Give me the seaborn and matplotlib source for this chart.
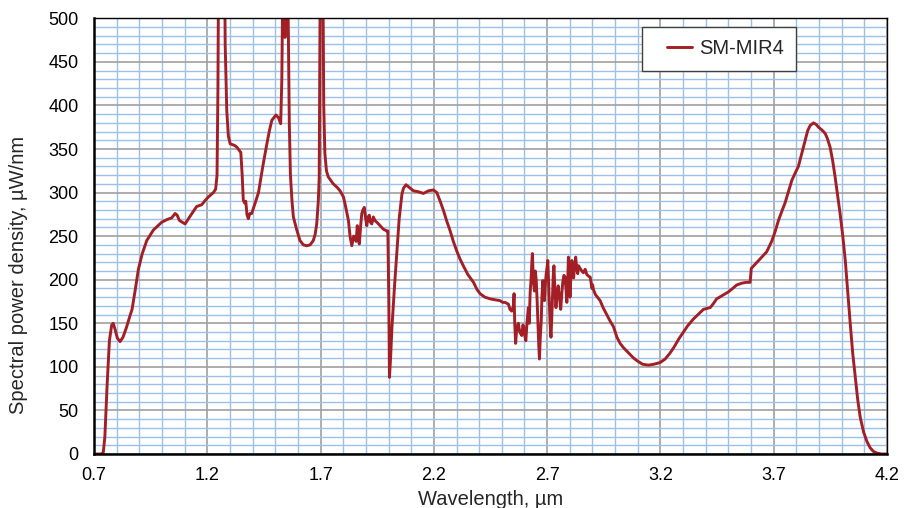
"""Spectral power density of the SM-MIR4 source, 0.7-4.2 um."""

import numpy as np
import matplotlib
matplotlib.use("Agg")
import matplotlib.pyplot as plt
from matplotlib.ticker import MultipleLocator
from matplotlib.legend_handler import HandlerLine2D
import seaborn as sns

wavelength = [
    0.70, 0.733, 0.741, 0.748, 0.758, 0.768, 0.778, 0.785, 0.793, 0.803,
    0.815, 0.828, 0.843, 0.858, 0.868, 0.883, 0.896, 0.913, 0.933, 0.962,
    0.999, 1.022, 1.043, 1.058, 1.067, 1.077, 1.102, 1.127, 1.153, 1.175,
    1.191, 1.205, 1.227, 1.237, 1.243, 1.247, 1.251, 1.263, 1.275, 1.279,
    1.286, 1.293, 1.301, 1.321, 1.331, 1.348, 1.354, 1.359, 1.365, 1.370,
    1.375, 1.381, 1.388, 1.396, 1.410, 1.426, 1.445, 1.463, 1.475, 1.485,
    1.503, 1.514, 1.524, 1.529, 1.534, 1.539, 1.543, 1.547, 1.552, 1.558,
    1.562, 1.567, 1.574, 1.580, 1.594, 1.609, 1.624, 1.639, 1.654, 1.668,
    1.676, 1.683, 1.690, 1.694, 1.698, 1.703, 1.710, 1.714, 1.719, 1.726,
    1.734, 1.756, 1.773, 1.786, 1.801, 1.808, 1.823, 1.830, 1.838, 1.846,
    1.852, 1.857, 1.862, 1.866, 1.871, 1.877, 1.882, 1.887, 1.893, 1.899,
    1.904, 1.910, 1.915, 1.920, 1.926, 1.933, 1.940, 1.952, 1.963, 1.977,
    1.992, 1.997, 2.001, 2.004, 2.009, 2.015, 2.027, 2.037, 2.047, 2.059,
    2.066, 2.077, 2.091, 2.110, 2.131, 2.154, 2.176, 2.198, 2.213, 2.228,
    2.243, 2.256, 2.272, 2.286, 2.301, 2.315, 2.330, 2.350, 2.375, 2.390,
    2.404, 2.425, 2.449, 2.469, 2.492, 2.504, 2.514, 2.522, 2.529, 2.536,
    2.544, 2.551, 2.554, 2.557, 2.561, 2.566, 2.573, 2.579, 2.588, 2.593,
    2.598, 2.602, 2.606, 2.611, 2.617, 2.621, 2.625, 2.629, 2.633, 2.635,
    2.639, 2.644, 2.648, 2.652, 2.656, 2.659, 2.663, 2.666, 2.670, 2.674,
    2.677, 2.681, 2.685, 2.688, 2.692, 2.696, 2.700, 2.703, 2.706, 2.709,
    2.713, 2.717, 2.721, 2.724, 2.727, 2.730, 2.734, 2.739, 2.744, 2.749,
    2.754, 2.760, 2.765, 2.769, 2.774, 2.779, 2.783, 2.787, 2.791, 2.794,
    2.798, 2.801, 2.805, 2.809, 2.813, 2.817, 2.821, 2.826, 2.831, 2.835,
    2.839, 2.843, 2.848, 2.853, 2.860, 2.868, 2.875, 2.883, 2.890, 2.895,
    2.898, 2.901, 2.904, 2.913, 2.922, 2.934, 2.947, 2.963, 2.977, 2.993,
    3.008, 3.022, 3.037, 3.052, 3.067, 3.082, 3.097, 3.121, 3.147, 3.171,
    3.199, 3.221, 3.243, 3.261, 3.281, 3.302, 3.320, 3.346, 3.370, 3.390,
    3.420, 3.435, 3.448, 3.474, 3.500, 3.519, 3.537, 3.559, 3.579, 3.596,
    3.601, 3.619, 3.640, 3.669, 3.691, 3.706, 3.721, 3.738, 3.750, 3.766,
    3.780, 3.794, 3.809, 3.824, 3.839, 3.850, 3.861, 3.876, 3.888, 3.898,
    3.912, 3.927, 3.937, 3.949, 3.960, 3.971, 3.982, 3.993, 4.005, 4.016,
    4.027, 4.038, 4.049, 4.060, 4.071, 4.082, 4.097, 4.112, 4.126, 4.140,
    4.156, 4.176, 4.2,
]
power = [
    0, 0, 2, 20, 80, 130, 148, 150, 143, 133,
    129, 134, 145, 158, 166, 190, 212, 230, 245, 257,
    266, 269, 271, 276, 274, 268, 264, 274, 284, 286,
    291, 295, 300, 304, 320, 420, 620, 1100, 620, 470,
    394, 365, 356, 354, 352, 346, 320, 291, 288, 290,
    275, 270, 276, 276, 287, 300, 330, 356, 372, 383,
    389, 386, 379, 430, 560, 520, 478, 540, 600, 480,
    380, 320, 290, 272, 258, 245, 240, 239, 240, 245,
    252, 264, 290, 317, 520, 1000, 560, 400, 345, 325,
    318, 310, 306, 302, 295, 287, 268, 250, 239, 250,
    249, 244, 262, 248, 241, 262, 276, 280, 283, 270,
    262, 272, 274, 266, 264, 272, 268, 265, 262, 258,
    256, 256, 180, 88, 110, 145, 195, 233, 270, 298,
    305, 309, 306, 302, 301, 299, 302, 303, 300, 290,
    279, 268, 256, 244, 233, 224, 216, 206, 197, 189,
    184, 180, 178, 177, 176, 174, 174, 173, 172, 166,
    164, 170, 184, 150, 127, 145, 150, 140, 136, 148,
    145, 135, 130, 150, 168, 150, 185, 200, 222, 230,
    200, 187, 210, 199, 175, 153, 125, 109, 135, 153,
    180, 199, 190, 176, 195, 207, 215, 222, 200, 176,
    150, 134, 160, 184, 205, 216, 190, 168, 185, 193,
    180, 166, 185, 197, 205, 203, 190, 174, 200, 226,
    200, 180, 205, 222, 210, 202, 215, 226, 212, 207,
    216, 214, 212, 210, 208, 212, 206, 204, 203, 195,
    190, 194, 189, 183, 180, 176, 168, 160, 153, 146,
    134, 127, 122, 118, 114, 110, 107, 103, 102, 103,
    105, 109, 116, 123, 132, 140, 147, 155, 161, 166,
    168, 173, 178, 182, 186, 190, 194, 196, 197, 197,
    213, 218, 224, 232, 244, 255, 268, 280, 288, 302,
    314, 322, 330, 345, 360, 371, 377, 380, 378, 375,
    372, 368, 362, 352, 337, 318, 297, 276, 250, 222,
    185, 149, 115, 88, 62, 42, 25, 14, 7, 3,
    1, 0, 0,
]
assert len(wavelength) == len(power)

series_label = "SM-MIR4"
x_ticks = [0.7, 1.2, 1.7, 2.2, 2.7, 3.2, 3.7, 4.2]
y_ticks = list(range(0, 501, 50))

LINE_COLOR = "#A31F25"
LEGEND_FS = 14.5


class _IndentedLine(HandlerLine2D):
    """Legend line drawn only in the right part of the handle box."""

    def get_xdata(self, legend, xdescent, ydescent, width, height, fontsize):
        seg = 1.24 * fontsize
        x = np.array([-xdescent + width - seg, -xdescent + width])
        return x, x


sns.set_style("white")
plt.rcParams["font.family"] = ["Liberation Sans", "DejaVu Sans"]

fig = plt.figure(figsize=(9.1, 5.08), dpi=100)
ax = fig.add_axes([0.1033, 0.1063, 0.8714, 0.8577])

sns.lineplot(x=wavelength, y=power, ax=ax, color=LINE_COLOR, lw=2.1,
             label=series_label, estimator=None, sort=False, zorder=5)

ax.set_xlim(0.7, 4.2)
ax.set_ylim(0, 500)
ax.set_xticks(x_ticks)
ax.set_xticklabels([f"{t:.1f}" for t in x_ticks])
ax.set_yticks(y_ticks)
ax.xaxis.set_minor_locator(MultipleLocator(0.1))
ax.yaxis.set_minor_locator(MultipleLocator(10))

ax.grid(which="minor", color="#9DC0E6", lw=1.0)
ax.grid(which="major", color="#A0A0A0", lw=1.2)
ax.set_axisbelow(True)

for side in ["left", "bottom"]:
    ax.spines[side].set_linewidth(1.8)
for side in ["top", "right"]:
    ax.spines[side].set_linewidth(1.0)
for sp in ax.spines.values():
    sp.set_color("black")
    sp.set_zorder(6)

ax.tick_params(which="major", direction="inout", length=6, width=1.2,
               colors="black", labelsize=13)
ax.tick_params(which="minor", direction="in", length=3, width=1.0,
               colors="black")
ax.tick_params(axis="x", which="major", pad=6.5)
ax.tick_params(axis="y", which="major", pad=8)

ax.set_xlabel("Wavelength, µm", fontsize=14.5)
ax.set_ylabel("Spectral power density, µW/nm", fontsize=14.5)
ax.xaxis.set_label_coords(0.5, -0.0815)
ax.yaxis.set_label_coords(-0.083, 0.41)

leg = ax.legend(loc="upper left", bbox_to_anchor=(0.691, 0.980),
                borderaxespad=0, fontsize=LEGEND_FS, frameon=True,
                fancybox=False, borderpad=0.62, handlelength=1.86,
                handletextpad=0.35,
                handler_map={plt.Line2D: _IndentedLine()})
leg.get_frame().set_edgecolor("#404040")
leg.get_frame().set_linewidth(1.0)
leg.get_frame().set_alpha(1.0)
leg.set_zorder(10)

fig.savefig("out.png", dpi=100)
plt.close(fig)
